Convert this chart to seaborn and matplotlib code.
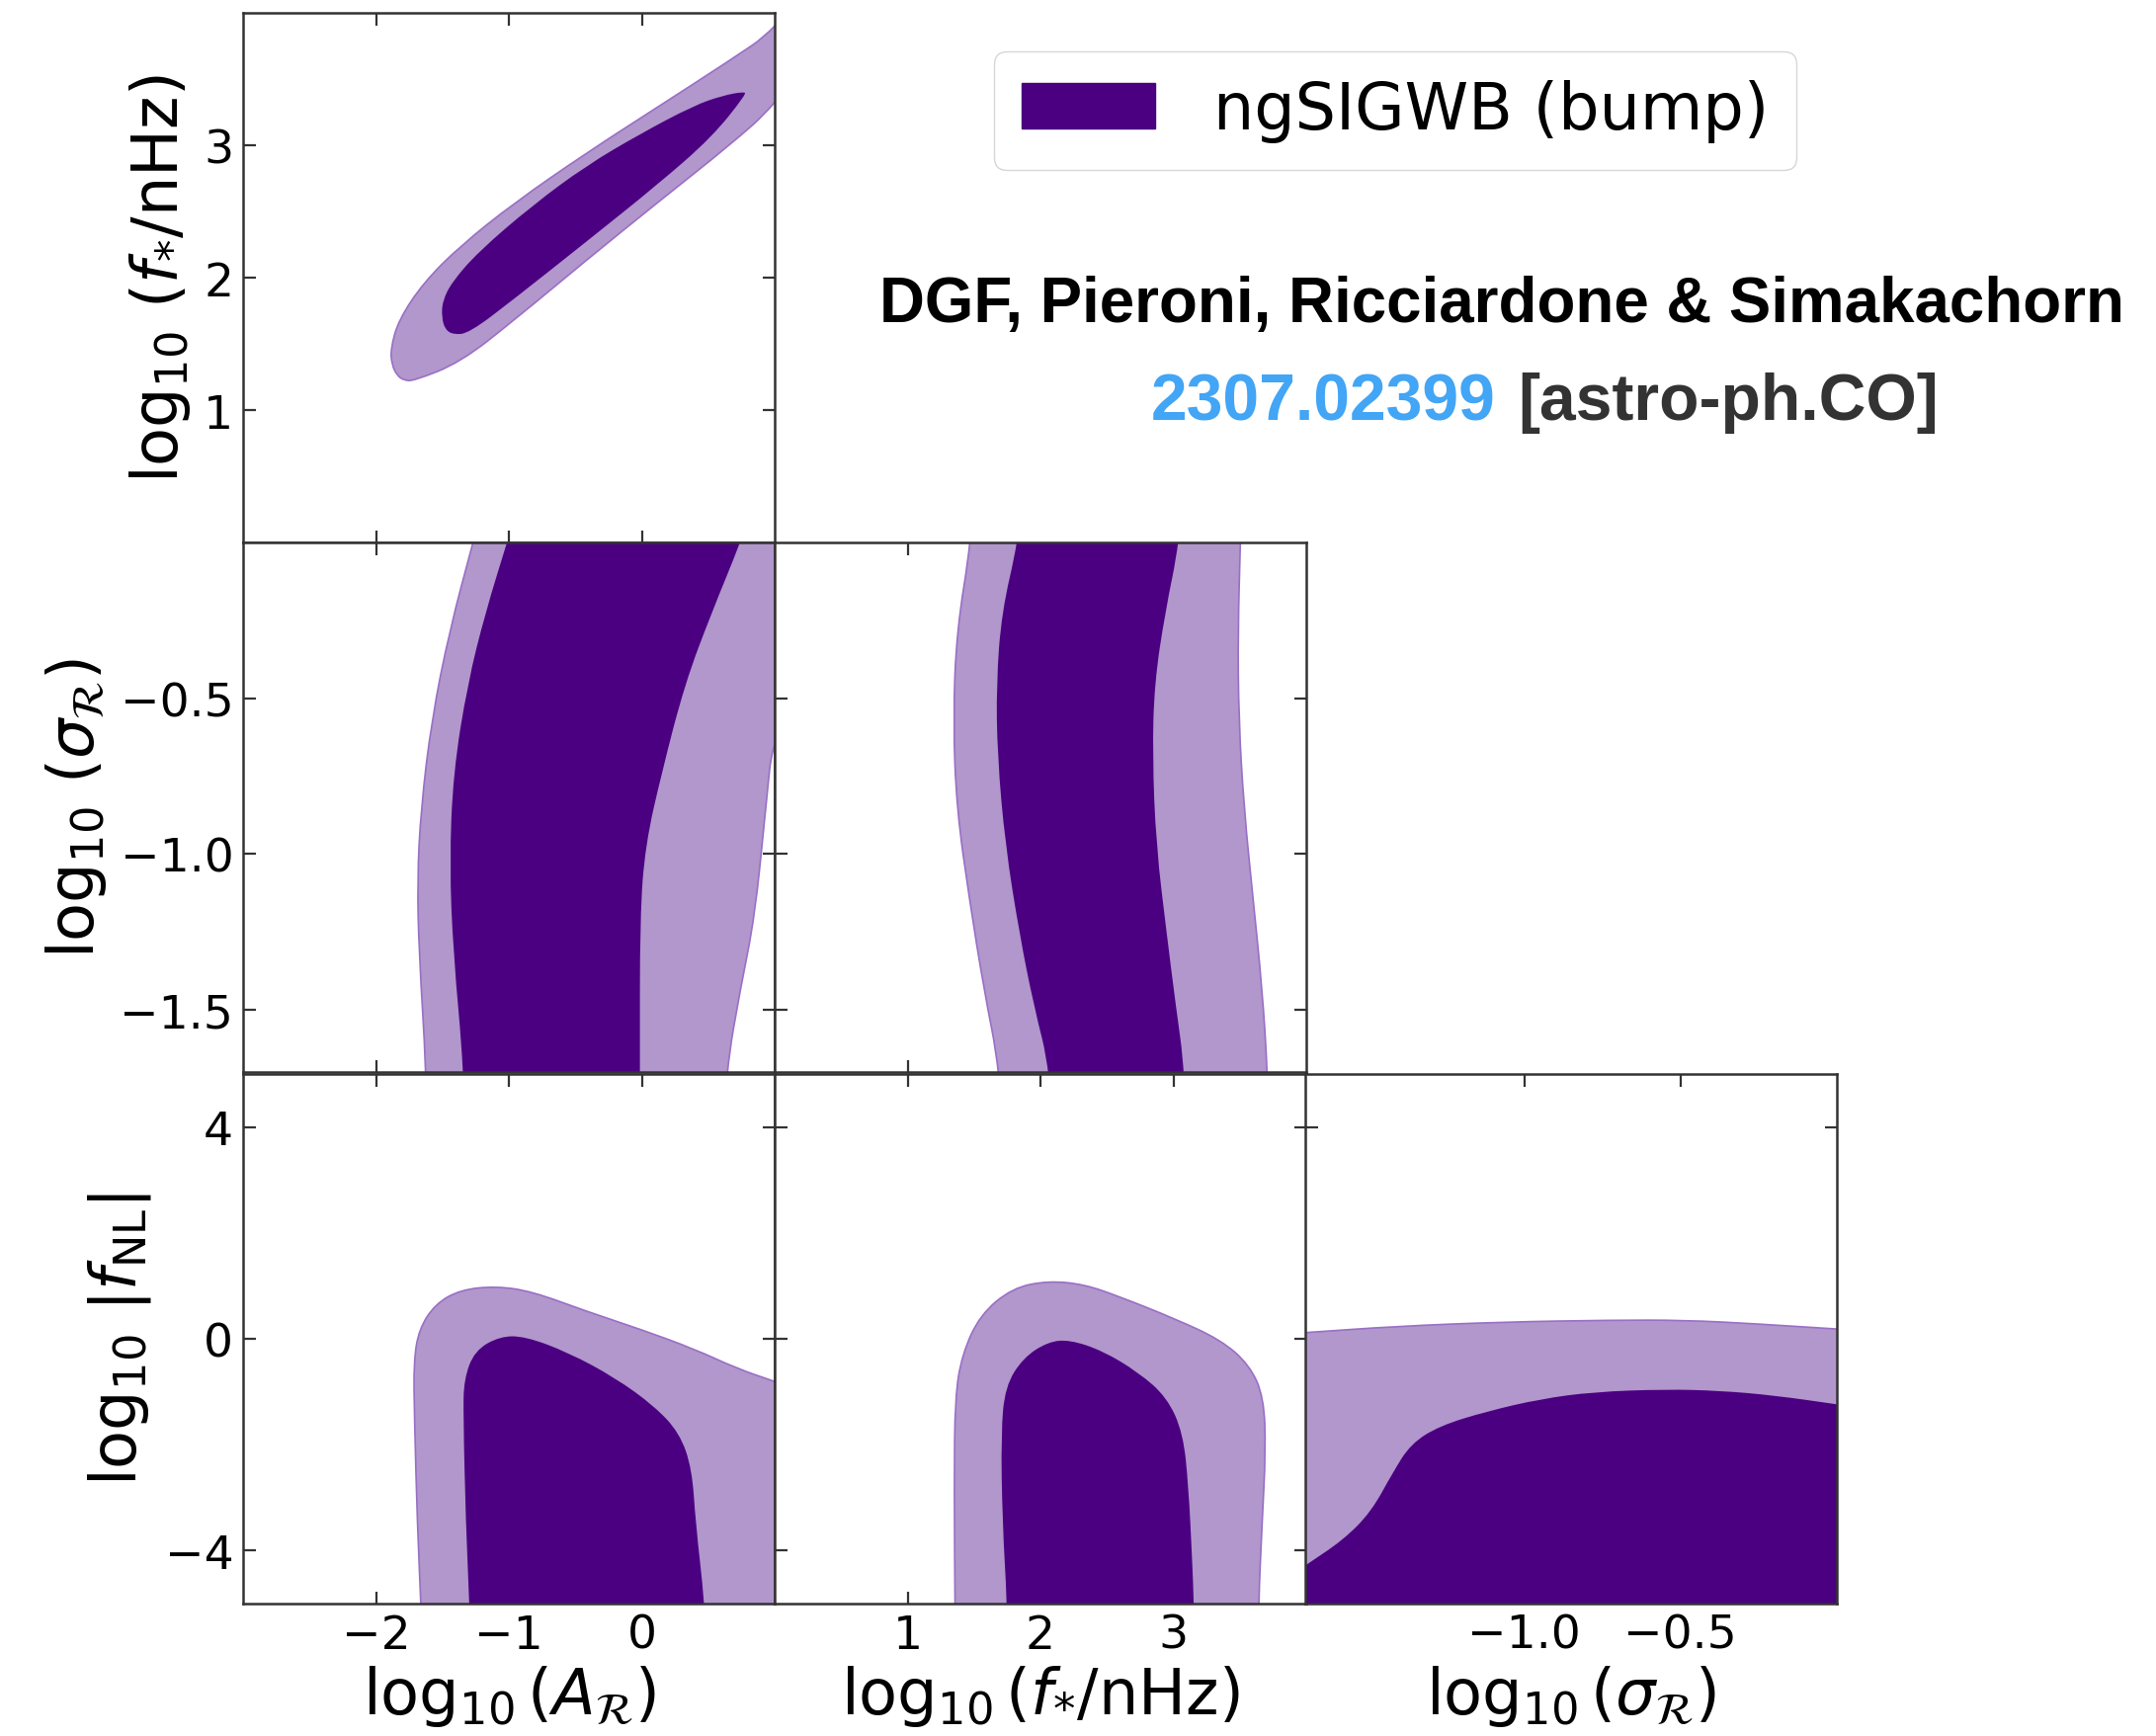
import numpy as np
import matplotlib
matplotlib.use("Agg")
import matplotlib.pyplot as plt
from matplotlib.path import Path
from matplotlib.patches import PathPatch, Patch
import seaborn as sns

# contour outlines (68% dark, 95% light)
# log10 A_R  vs  log10 f*
a_f_out_x = [-1.716, -1.365, -0.959, -0.419, 0.122, 0.662, 1.0, 1.4, 1.4, 1.0, 0.662, 0.122, -0.419, -0.959, -1.365, -1.640, -1.830, -1.890, -1.880, -1.840, -1.790]
a_f_out_y = [1.220, 1.360, 1.680, 2.130, 2.570, 3.000, 3.300, 3.85, 4.4, 3.870, 3.640, 3.290, 2.940, 2.565, 2.240, 1.965, 1.680, 1.460, 1.340, 1.260, 1.225]
a_f_in_x = [-1.300, -0.959, -0.419, 0.122, 0.527, 0.784, 0.770, 0.608, 0.392, -0.014, -0.419, -0.824, -1.230, -1.430, -1.500, -1.505, -1.480, -1.420]
a_f_in_y = [1.580, 1.840, 2.270, 2.705, 3.060, 3.383, 3.405, 3.375, 3.300, 3.085, 2.845, 2.545, 2.195, 1.965, 1.820, 1.700, 1.610, 1.570]

# log10 A_R  vs  log10 sigma_R
a_s_out_x = [-1.08, -1.270, -1.446, -1.581, -1.662, -1.689, -1.676, -1.622, -1.60, 0.58, 0.635, 0.743, 0.851, 0.932, 0.992, 1.5, 1.5]
a_s_out_y = [0.3, 0.0, -0.282, -0.569, -0.856, -1.086, -1.316, -1.695, -2.1, -2.1, -1.695, -1.431, -1.201, -0.856, -0.603, -0.2, 0.3]
a_s_in_x = [-0.80, -1.014, -1.176, -1.311, -1.419, -1.446, -1.419, -1.338, -1.32, -0.014, -0.014, -0.014, 0.027, 0.149, 0.324, 0.527, 0.743, 1.0]
a_s_in_y = [0.3, 0.0, -0.224, -0.454, -0.741, -1.029, -1.316, -1.695, -2.1, -2.1, -1.695, -1.201, -0.971, -0.741, -0.454, -0.224, 0.0, 0.3]

# log10 f*  vs  log10 sigma_R
f_s_out_x = [1.52, 1.478, 1.370, 1.343, 1.370, 1.465, 1.573, 1.695, 1.75, 3.74, 3.708, 3.668, 3.600, 3.532, 3.492, 3.486, 3.505, 3.52]
f_s_out_y = [0.3, 0.0, -0.282, -0.569, -0.856, -1.144, -1.431, -1.695, -2.1, -2.1, -1.695, -1.431, -1.144, -0.856, -0.569, -0.282, 0.0, 0.3]
f_s_in_x = [1.92, 1.830, 1.708, 1.668, 1.676, 1.735, 1.843, 1.951, 2.073, 2.12, 3.11, 3.086, 3.019, 2.951, 2.870, 2.843, 2.857, 2.938, 3.046, 3.10]
f_s_in_y = [0.3, 0.0, -0.224, -0.454, -0.684, -0.971, -1.259, -1.489, -1.695, -2.1, -2.1, -1.695, -1.489, -1.259, -0.971, -0.684, -0.454, -0.224, 0.0, 0.3]

# log10 A_R  vs  log10 |fNL|
a_n_out_x = [-1.65, -1.662, -1.689, -1.711, -1.716, -1.676, -1.554, -1.365, -1.095, -0.824, -0.419, -0.014, 0.392, 0.716, 0.992, 1.5, 1.5]
a_n_out_y = [-6.0, -4.99, -3.469, -1.440, -0.426, 0.183, 0.656, 0.926, 0.994, 0.893, 0.521, 0.183, -0.189, -0.561, -0.798, -1.25, -6.0]
a_n_in_x = [-1.29, -1.297, -1.324, -1.343, -1.338, -1.257, -1.068, -0.878, -0.554, -0.203, 0.095, 0.284, 0.378, 0.405, 0.473, 0.49]
a_n_in_y = [-6.0, -4.99, -3.469, -1.440, -0.764, -0.223, 0.047, 0.047, -0.257, -0.730, -1.271, -1.778, -2.454, -3.469, -4.99, -6.0]

# log10 f*  vs  log10 |fNL|
f_n_out_x = [1.36, 1.357, 1.351, 1.357, 1.411, 1.546, 1.789, 2.059, 2.330, 2.600, 3.005, 3.357, 3.573, 3.681, 3.695, 3.668, 3.641, 3.64]
f_n_out_y = [-6.0, -4.99, -2.792, -1.102, -0.291, 0.453, 0.960, 1.095, 1.028, 0.791, 0.385, -0.020, -0.494, -1.102, -2.116, -3.469, -4.99, -6.0]
f_n_in_x = [1.75, 1.749, 1.714, 1.703, 1.735, 1.870, 2.059, 2.222, 2.465, 2.735, 2.951, 3.073, 3.114, 3.141, 3.154, 3.16]
f_n_in_y = [-6.0, -4.99, -3.469, -1.778, -0.899, -0.358, -0.054, -0.020, -0.223, -0.629, -1.102, -1.778, -2.792, -4.145, -4.99, -6.0]

# log10 sigma_R  vs  log10 |fNL|
s_n_out_x = [-2.0, -1.701, -1.408, -1.063, -0.718, -0.489, -0.259, 0.0, 0.3, 0.3, -2.0]
s_n_out_y = [0.0, 0.115, 0.237, 0.318, 0.352, 0.352, 0.284, 0.183, 0.08, -6.0, -6.0]
s_n_in_x = [-2.0, -1.701, -1.580, -1.489, -1.420, -1.362, -1.270, -1.121, -0.948, -0.776, -0.546, -0.374, -0.201, 0.0, 0.3, 0.3, -2.0]
s_n_in_y = [-5.5, -4.280, -3.807, -3.266, -2.522, -1.981, -1.643, -1.373, -1.136, -1.001, -0.953, -0.980, -1.068, -1.237, -1.49, -6.0, -6.0]

x_ticks = [[-2, -1, 0], [1, 2, 3], [-1.0, -0.5]]
y_ticks = [[1, 2, 3], [-1.5, -1.0, -0.5], [-4, 0, 4]]
x_lims = [(-3, 1), (0, 4), (-1.7, 0.0)]
y_lims = [(0, 4), (-1.7, 0.0), (-5, 5)]
x_labels = [r'$\log_{10}(A_{\mathcal{R}})$', r'$\log_{10}(f_{*}/\mathrm{nHz})$', r'$\log_{10}(\sigma_{\mathcal{R}})$']
y_labels = [r'$\log_{10}\,(f_{*}/\mathrm{nHz})$', r'$\log_{10}\,(\sigma_{\mathcal{R}})$', r'$\log_{10}\,|f_{\mathrm{NL}}|$']
legend_label = 'ngSIGWB (bump)'

dark = '#4b0082'
light = '#b197cb'

sns.set_theme(style='ticks', rc={
    'xtick.direction': 'in', 'ytick.direction': 'in',
    'xtick.top': True, 'ytick.right': True,
    'text.color': 'black', 'axes.labelcolor': 'black',
    'xtick.color': 'black', 'ytick.color': 'black',
})
plt.rcParams['font.family'] = ['DejaVu Sans']
plt.rcParams['mathtext.fontset'] = 'dejavusans'


def smooth_fill(ax, xs, ys, color, edge=None, lw=0.0):
    pts = np.column_stack([xs, ys])
    mids = (pts + np.roll(pts, -1, axis=0)) / 2
    verts = [mids[-1]]
    codes = [Path.MOVETO]
    for i in range(len(pts)):
        verts += [pts[i], mids[i]]
        codes += [Path.CURVE3, Path.CURVE3]
    verts.append(mids[-1])
    codes.append(Path.CLOSEPOLY)
    ax.add_patch(PathPatch(Path(verts, codes), facecolor=color,
                           edgecolor=edge if edge else color, lw=lw))


fig = plt.figure(figsize=(21.82, 17.58), dpi=100)

col_left = [246 / 2182, 784 / 2182, 1321 / 2182]
row_bottom = [1 - 550 / 1758, 1 - 1086 / 1758, 1 - 1624 / 1758]
w = 538 / 2182
h = 536 / 1758

panels = {
    (0, 0): (a_f_out_x, a_f_out_y, a_f_in_x, a_f_in_y),
    (1, 0): (a_s_out_x, a_s_out_y, a_s_in_x, a_s_in_y),
    (1, 1): (f_s_out_x, f_s_out_y, f_s_in_x, f_s_in_y),
    (2, 0): (a_n_out_x, a_n_out_y, a_n_in_x, a_n_in_y),
    (2, 1): (f_n_out_x, f_n_out_y, f_n_in_x, f_n_in_y),
    (2, 2): (s_n_out_x, s_n_out_y, s_n_in_x, s_n_in_y),
}

for (r, c), (ox, oy, ix, iy) in panels.items():
    ax = fig.add_axes([col_left[c], row_bottom[r], w, h])
    smooth_fill(ax, ox, oy, light, edge='#9a6fc6', lw=1.2)
    smooth_fill(ax, ix, iy, dark)
    ax.set_xlim(*x_lims[c])
    ax.set_ylim(*y_lims[r])
    ax.set_xticks(x_ticks[c])
    ax.set_yticks(y_ticks[r])
    ax.tick_params(which='both', direction='in', top=True, right=True,
                   length=9, width=1.6, color='#333333', labelcolor='black',
                   labelsize=34, pad=7)
    for s in ax.spines.values():
        s.set_linewidth(1.8)
        s.set_color('#333333')
    if c == 0:
        ax.set_ylabel(y_labels[r], fontsize=46, labelpad=8, color='black')
    else:
        ax.tick_params(labelleft=False)
    if r == 2:
        ax.set_xlabel(x_labels[c], fontsize=46, labelpad=4, color='black')
    else:
        ax.tick_params(labelbottom=False)

fig.legend(handles=[Patch(facecolor=dark, edgecolor=dark, label=legend_label)],
           loc='center', bbox_to_anchor=(0.6472, 0.9357), fontsize=47,
           frameon=True, fancybox=True, edgecolor='#cccccc',
           handlelength=2.07, handleheight=0.72, handletextpad=0.9, borderpad=0.43)

fig.text(0.6966, 0.8242, 'DGF, Pieroni, Ricciardone & Simakachorn', fontsize=45.8,
         fontweight='bold', color='black', family=['Liberation Sans', 'DejaVu Sans'],
         ha='center', va='center')
fig.text(0.6939, 0.7679, '2307.02399', fontsize=47.5, fontweight='bold', color='#42a5f5',
         family=['Liberation Sans', 'DejaVu Sans'], ha='right', va='center')
fig.text(0.7040, 0.7679, '[astro-ph.CO]', fontsize=47.5, fontweight='bold', color='#333333',
         family=['Liberation Sans', 'DejaVu Sans'], ha='left', va='center')

fig.savefig('out.png', dpi=100)
